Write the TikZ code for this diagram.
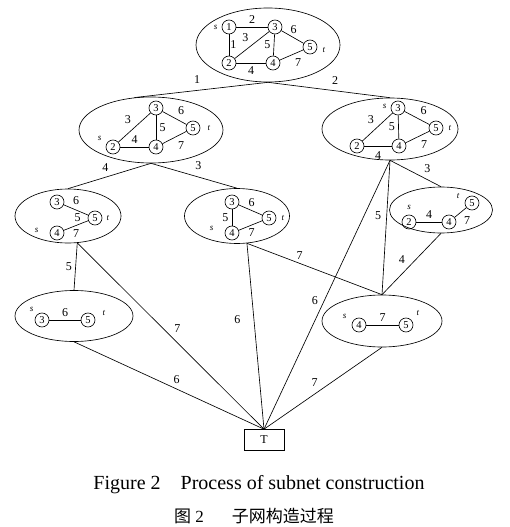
\documentclass[tikz,border=0pt]{standalone}
\usepackage{fontspec}
\setmainfont{Liberation Serif}
\newfontfamily\cjk{Noto Sans CJK SC}
\usepackage{tikz}
\usetikzlibrary{shapes.geometric, positioning}

\begin{document}
\begin{tikzpicture}[x=1pt, y=-1pt, line width=0.65pt, font=\fontsize{12}{14}\selectfont]
    \tikzstyle{net}=[ellipse, draw, inner sep=0pt]
    \tikzstyle{vtx}=[circle, draw, minimum size=14pt, inner sep=0pt, font=\fontsize{10.5}{12}\selectfont]
    \tikzstyle{st}=[inner sep=1pt, font=\fontsize{9}{10}\selectfont\itshape]
    \useasboundingbox (0,0) rectangle (509,527);

    % whole network
    \node[net, minimum width=144pt, minimum height=74pt] (net0) at (268,45) {};
    \node[vtx] (a1) at (229,27) {1};
    \node[vtx] (a2) at (229,63) {2};
    \node[vtx] (a3) at (275,27) {3};
    \node[vtx] (a4) at (273,63) {4};
    \node[vtx] (a5) at (310,47) {5};
    \node[st, left=3pt of a1] (s0) {s};
    \node[st, right=4pt of a5, yshift=-3pt] (t0) {t};
    \draw (a1) -- (a3) node[midway, above] {2};
    \draw (a1) -- (a2) node[midway, right, inner sep=1pt] {1};
    \draw (a2) -- (a3) node[midway, above left] {3};
    \draw (a3) -- (a4) node[midway, left] {5};
    \draw (a3) -- (a5) node[pos=0.55, above] {6};
    \draw (a4) -- (a5) node[midway, below right] {7};
    \draw (a2) -- (a4) node[midway, below] {4};

    % second level
    \node[net, minimum width=144pt, minimum height=66pt] (net1) at (151,130) {};
    \node[vtx] (b2) at (113,147) {2};
    \node[vtx] (b3) at (156,108) {3};
    \node[vtx] (b4) at (156,147) {4};
    \node[vtx] (b5) at (193,128) {5};
    \node[st, left=3pt of b2, yshift=9pt] (s1) {s};
    \node[st, right=6pt of b5] (t1) {t};
    \draw (b2) -- (b3) node[midway, above left] {3};
    \draw (b3) -- (b4) node[midway, right] {5};
    \draw (b3) -- (b5) node[midway, above right] {6};
    \draw (b2) -- (b4) node[midway, above] {4};
    \draw (b4) -- (b5) node[midway, below right] {7};

    \node[net, minimum width=136pt, minimum height=62pt] (net2) at (390,129) {};
    \node[vtx] (c2) at (357,146) {2};
    \node[vtx] (c3) at (398,108) {3};
    \node[vtx] (c4) at (399,146) {4};
    \node[vtx] (c5) at (436,128) {5};
    \node[st, left=3pt of c3, yshift=2pt] (s2) {s};
    \node[st, right=4pt of c5] (t2) {t};
    \draw (c2) -- (c3) node[midway, above left] {3};
    \draw (c3) -- (c4) node[midway, left] {5};
    \draw (c3) -- (c5) node[midway, above right] {6};
    \draw (c2) -- (c4) node[midway, below=2pt] {4};
    \draw (c4) -- (c5) node[midway, below right] {7};

    % third level
    \node[net, minimum width=106pt, minimum height=54pt] (net3) at (68,216) {};
    \node[vtx] (d3) at (57,202) {3};
    \node[vtx] (d4) at (57,233) {4};
    \node[vtx] (d5) at (95,218) {5};
    \node[st, left=10pt of d4, yshift=3pt] (s3) {s};
    \node[st, right=3pt of d5] (t3) {t};
    \draw (d3) -- (d5) node[midway, above=2pt] {6};
    \path (d3) -- (d4) node[midway, right=14pt] {5};
    \draw (d4) -- (d5) node[midway, below] {7};

    \node[net, minimum width=105pt, minimum height=55pt] (net4) at (237,216) {};
    \node[vtx] (e3) at (232,202) {3};
    \node[vtx] (e4) at (232,233) {4};
    \node[vtx] (e5) at (269,218) {5};
    \node[st, left=10pt of e4, yshift=5pt] (s4) {s};
    \node[st, right=4pt of e5] (t4) {t};
    \draw (e3) -- (e4) node[midway, left] {5};
    \draw (e3) -- (e5) node[pos=0.55, above] {6};
    \draw (e4) -- (e5) node[pos=0.55, below] {7};

    \node[net, minimum width=103pt, minimum height=46pt] (net5) at (441,210) {};
    \node[vtx] (f2) at (409,222) {2};
    \node[vtx] (f4) at (449,222) {4};
    \node[vtx] (f5) at (472,203) {5};
    \node[st, above=4pt of f2] (s5) {s};
    \node[st, left=4pt of f5, yshift=7pt] (t5) {t};
    \draw (f2) -- (f4) node[midway, above] {4};
    \draw (f4) -- (f5) node[midway, below right] {7};

    % fourth level
    \node[net, minimum width=118pt, minimum height=51pt] (net6) at (74,316) {};
    \node[vtx] (g3) at (42,320) {3};
    \node[vtx] (g5) at (88,320) {5};
    \node[st, left=0pt of g3, yshift=11pt] (s6) {s};
    \node[st, right=6pt of g5, yshift=7pt] (t6) {t};
    \draw (g3) -- (g5) node[midway, above] {6};

    \node[net, minimum width=120pt, minimum height=52pt] (net7) at (382,321) {};
    \node[vtx] (h4) at (359,325) {4};
    \node[vtx] (h5) at (406,325) {5};
    \node[st, left=4pt of h4, yshift=9pt] (s7) {s};
    \node[st, right=2pt of h5, yshift=12pt] (t7) {t};
    \draw (h4) -- (h5) node[midway, above] {7};

    \node[draw, minimum width=40pt, minimum height=21pt, inner sep=0pt, font=\fontsize{12}{14}\selectfont] (T) at (264,440) {T};

    % subnet tree
    \draw (net0.south) -- (net1.117) node[pos=0.53, above=3pt] {1};
    \draw (net0.south) -- (net2.north) node[pos=0.55, above=3pt] {2};
    \draw (net1.south) -- (net3.north) node[pos=0.55, above=2pt] {4};
    \draw (net1.south) -- (net4.north) node[pos=0.55, above=4pt] {3};
    \draw (net2.south) -- (net5.north) node[pos=0.6, above right] {3};
    \draw (net2.south) -- (net7.north) node[pos=0.41, left=2pt] {5};
    \draw (net2.south) -- (T.north) node[pos=0.52, left=3pt] {6};
    \draw (net3.-71) -- (net6.north) node[midway, left] {5};
    \draw (net3.-71) -- (T.north) node[midway, above right] {7};
    \draw (net4.-70) -- (net7.north) node[pos=0.39, above] {7};
    \draw (net4.-70) -- (T.north) node[pos=0.41, left=10pt] {6};
    \draw (net5.south) -- (net7.north) node[pos=0.55, above left] {4};
    \draw (net6.south) -- (T.north) node[pos=0.54, above=2pt] {6};
    \draw (net7.south) -- (T.north) node[pos=0.57, above=4pt] {7};

    \node[font=\fontsize{20}{22}\selectfont] (cap) at (259,485) {Figure 2\quad Process of subnet construction};
    \node[font=\fontsize{17}{20}\selectfont] (capcn) at (254,516) {{\cjk 图}~2\hspace{28pt}{\cjk 子网构造过程}};
\end{tikzpicture}
\end{document}
